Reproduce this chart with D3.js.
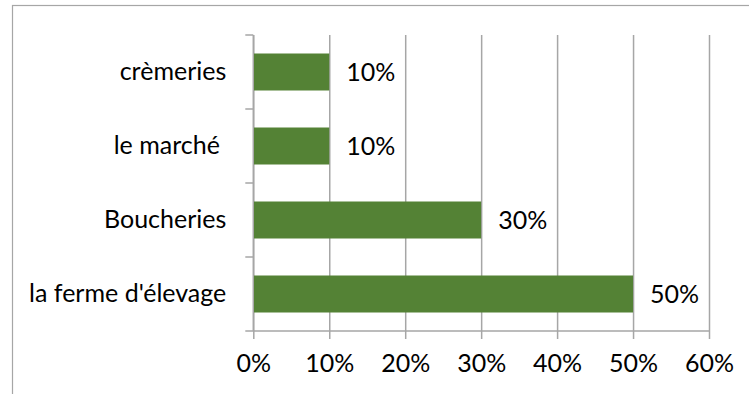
<!DOCTYPE html>
<html>
<head>
<meta charset="utf-8">
<script src="https://cdn.jsdelivr.net/npm/d3@7"></script>
<style>
  html, body { margin: 0; padding: 0; background: #fff; }
  svg { display: block; }
  text { font-family: Lato, "Open Sans", sans-serif; fill: #000; }
</style>
</head>
<body>
<svg id="chart" width="749" height="394"></svg>
<script>
// Points de vente (du haut vers le bas) et parts
const categories = ["crèmeries", "le marché ", "Boucheries", "la ferme d'élevage"];
const values = [0.10, 0.10, 0.30, 0.50];
const xTicks = [0, 0.1, 0.2, 0.3, 0.4, 0.5, 0.6];

const svg = d3.select("#chart");
const W = 749, H = 394;
const plot = { left: 253.3, right: 709, top: 35, bottom: 331 };
const barColor = "#548235";
const gridColor = "#a6a6a6";
const fontSize = 25;

svg.append("rect").attr("width", W).attr("height", H).attr("fill", "#fff");

// cadre du graphique
svg.append("rect")
  .attr("x", 12.5).attr("y", 5.5)
  .attr("width", 900).attr("height", 600)
  .attr("fill", "none").attr("stroke", "#a6a6a6").attr("stroke-width", 1.2);

const x = d3.scaleLinear().domain([0, 0.6]).range([plot.left, plot.right]);
const y = d3.scaleBand().domain(categories).range([plot.top, plot.bottom]).paddingInner(0.5).paddingOuter(0.25);

// quadrillage vertical + graduations
const gx = svg.append("g").attr("transform", `translate(0,${plot.bottom})`)
  .call(d3.axisBottom(x).tickValues(xTicks).tickFormat(d3.format(".0%")).tickSize(8).tickPadding(15));
gx.select(".domain").attr("stroke", gridColor).attr("stroke-width", 1.5)
  .attr("d", `M${plot.left},0H${plot.right}`);
gx.selectAll(".tick line").attr("stroke", gridColor).attr("stroke-width", 1.5)
  .attr("y1", -(plot.bottom - plot.top)).attr("y2", 8);
gx.selectAll(".tick text").attr("font-size", fontSize).attr("font-family", "Lato, 'Open Sans', sans-serif").attr("fill", "#000");

// axe des catégories
const yAxis = d3.axisLeft(y).tickSize(0).tickPadding(27);
const gy = svg.append("g").attr("transform", `translate(${plot.left},0)`).call(yAxis);
gy.select(".domain").attr("stroke", gridColor).attr("stroke-width", 1.5)
  .attr("d", `M0,${plot.top}V${plot.bottom}`);
gy.selectAll(".tick text").attr("font-size", fontSize).attr("font-family", "Lato, 'Open Sans', sans-serif")
  .attr("fill", "#000").style("white-space", "pre").attr("xml:space", "preserve");

// graduations entre catégories
const boundaries = d3.range(categories.length + 1).map(i => plot.top + i * (plot.bottom - plot.top) / categories.length);
svg.append("g").selectAll("line").data(boundaries).join("line")
  .attr("x1", plot.left - 8).attr("x2", plot.left)
  .attr("y1", d => d).attr("y2", d => d)
  .attr("stroke", gridColor).attr("stroke-width", 1.5);

// barres
svg.append("g").selectAll("rect").data(categories).join("rect")
  .attr("x", x(0) + 0.7)
  .attr("y", d => y(d))
  .attr("width", (d, i) => x(values[i]) - x(0) - 0.7)
  .attr("height", y.bandwidth())
  .attr("fill", barColor);

// étiquettes de valeur
svg.append("g").selectAll("text").data(categories).join("text")
  .attr("x", (d, i) => x(values[i]) + 17)
  .attr("y", d => y(d) + y.bandwidth() / 2)
  .attr("dy", "0.35em")
  .attr("font-size", fontSize)
  .text((d, i) => d3.format(".0%")(values[i]));
</script>
</body>
</html>
